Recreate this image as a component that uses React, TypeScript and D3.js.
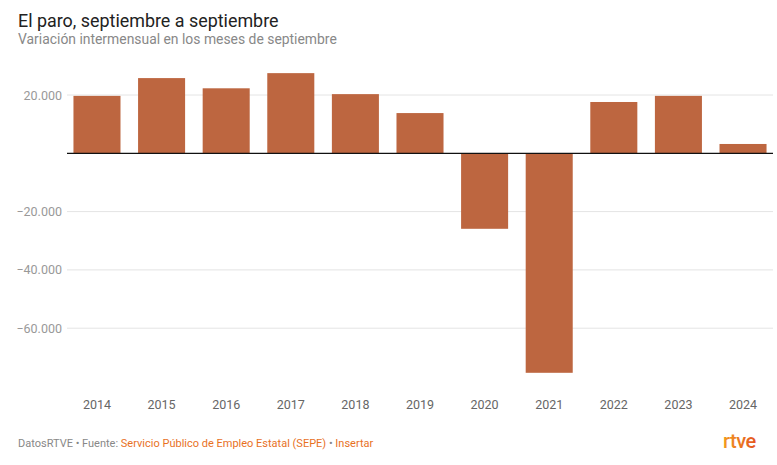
import React, { useRef, useEffect } from "react";
import * as d3 from "d3";

const years = ["2014", "2015", "2016", "2017", "2018", "2019", "2020", "2021", "2022", "2023", "2024"];
const values = [19700, 25800, 22300, 27500, 20300, 13800, -25900, -75300, 17600, 19700, 3200];
const yTicks = [20000, -20000, -40000, -60000];

const W = 777;
const H = 465;

const fmt = (v: number) => {
  const s = d3.format(",")(Math.abs(v)).replace(/,/g, ".");
  return v < 0 ? "\u2212" + s : s;
};

export default function App() {
  const ref = useRef<SVGSVGElement>(null);

  useEffect(() => {
    const svg = d3.select(ref.current);
    svg.selectAll("*").remove();

    const left = 67;
    const right = 773;

    const x = d3.scaleBand<string>().domain(years).range([left, right]).paddingInner(0.272).paddingOuter(0.1);
    // zero at 153, 20.000 at 94.7
    const y = d3.scaleLinear().domain([0, 20000]).range([153.3, 95]);

    // title
    svg.append("text").attr("x", 18).attr("y", 27).attr("font-size", 17.9).attr("fill", "#222").text("El paro, septiembre a septiembre");
    svg.append("text").attr("x", 18).attr("y", 44).attr("font-size", 13.9).attr("fill", "#888").text("Variación intermensual en los meses de septiembre");

    // grid + y labels
    const g = svg.append("g");
    g.selectAll("line.grid")
      .data(yTicks)
      .enter()
      .append("line")
      .attr("x1", left)
      .attr("x2", right)
      .attr("y1", (d) => y(d))
      .attr("y2", (d) => y(d))
      .attr("stroke", "#e4e4e4")
      .attr("stroke-width", 1);
    g.selectAll("text.tick")
      .data(yTicks)
      .enter()
      .append("text")
      .attr("x", 62)
      .attr("y", (d) => y(d) + 4.5)
      .attr("text-anchor", "end")
      .attr("font-size", 12.5)
      .attr("fill", "#999")
      .text((d) => fmt(d));

    // bars
    svg
      .selectAll("rect.bar")
      .data(values)
      .enter()
      .append("rect")
      .attr("x", (d, i) => x(years[i])!)
      .attr("width", x.bandwidth())
      .attr("y", (d) => Math.min(y(d), y(0)))
      .attr("height", (d) => Math.abs(y(d) - y(0)))
      .attr("fill", "#bd6640");

    // zero line
    svg.append("line").attr("x1", left).attr("x2", right).attr("y1", y(0)).attr("y2", y(0)).attr("stroke", "#111").attr("stroke-width", 1.3);

    // x labels
    svg
      .selectAll("text.year")
      .data(years)
      .enter()
      .append("text")
      .attr("x", (d) => x(d)! + x.bandwidth() / 2)
      .attr("y", 409)
      .attr("text-anchor", "middle")
      .attr("font-size", 12.5)
      .attr("fill", "#666")
      .text((d) => d);

    // footer
    const foot = svg.append("text").attr("x", 18).attr("y", 447).attr("font-size", 11);
    foot.append("tspan").attr("fill", "#888").text("DatosRTVE • Fuente: ");
    foot.append("tspan").attr("fill", "#e8711f").text("Servicio Público de Empleo Estatal (SEPE)");
    foot.append("tspan").attr("fill", "#888").text(" • ");
    foot.append("tspan").attr("fill", "#e8711f").text("Insertar");

    // logo
    const defs = svg.append("defs");
    const grad = defs.append("linearGradient").attr("id", "rtveg").attr("x1", "0").attr("x2", "1").attr("y1", "0").attr("y2", "0");
    grad.append("stop").attr("offset", "0%").attr("stop-color", "#f29a1f");
    grad.append("stop").attr("offset", "100%").attr("stop-color", "#e4551f");
    svg
      .append("text")
      .attr("x", 723)
      .attr("y", 448)
      .attr("font-size", 20)
      .attr("font-weight", 500)
      .attr("letter-spacing", -0.5)
      .attr("fill", "url(#rtveg)")
      .text("rtve");
  }, []);

  return (
    <svg
      ref={ref}
      width={W}
      height={H}
      style={{ position: "absolute", left: 0, top: 0, fontFamily: "Roboto, sans-serif", background: "#fff" }}
    />
  );
}
